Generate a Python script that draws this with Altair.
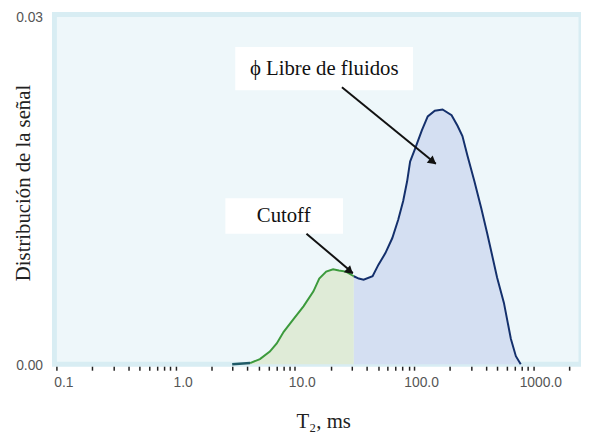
import altair as alt
import pandas as pd

# ---- curve data ----
t2 = [2.98, 4.21, 5.09, 6.16, 7.04, 8.05, 9.73, 11.8, 14.3, 16.0, 18.3, 20.9, 23.4, 26.8,
      31.2, 34.3, 37.7, 44.8, 50.2, 57.4, 65.6, 73.6, 80.9, 87.3, 92.5, 101.7, 116, 130,
      149, 173, 206, 231, 254, 280, 320, 365, 410, 442, 496, 566, 647, 713, 783]
signal = [0.0, 0.0001, 0.00045, 0.0011, 0.0018, 0.0028, 0.0039, 0.0050, 0.0063, 0.0074,
          0.0080, 0.0082, 0.0081, 0.0080, 0.0076, 0.0074, 0.0073, 0.0076, 0.0086, 0.0096,
          0.0109, 0.0125, 0.0141, 0.0158, 0.0175, 0.0186, 0.0202, 0.0214, 0.0219, 0.0220,
          0.0215, 0.0206, 0.0197, 0.0180, 0.0158, 0.0135, 0.0113, 0.0098, 0.0075, 0.0053,
          0.0022, 0.0007, 0.0]
cutoff = 31.2
start_end = 4.21

# ---- axis ticks ----
x_tick_values = [m * 10.0 ** e for e in (-1, 0, 1, 2) for m in range(1, 10)] + [1000.0, 2000.0]
y_tick_values = [0.0, 0.03]

# ---- annotations ----
box_x = [3.16, 2.61]
box_x2 = [97.9, 25.3]
box_y = [0.0274, 0.01434]
box_y2 = [0.02367, 0.01128]
label_text = ["ϕ Libre de fluidos", "Cutoff"]
label_x = [17.6, 8.05]
label_y = [0.02553, 0.01281]
arrow_x = [24.8, 12.5]
arrow_y = [0.02392, 0.01128]
arrow_x2 = [152.0, 30.6]
arrow_y2 = [0.01731, 0.00789]
head_x = [140.7, 28.4]
head_y = [0.01756, 0.0081]
head_angle = [129, 132]

df = pd.DataFrame({"t2": t2, "s": signal})
green = df[df.t2 <= cutoff]
blue = df[df.t2 >= cutoff]
start = df[df.t2 <= start_end]

boxes = pd.DataFrame({"x": box_x, "x2": box_x2, "y": box_y, "y2": box_y2})
labels = pd.DataFrame({"x": label_x, "y": label_y, "t": label_text})
arrows = pd.DataFrame({"x": arrow_x, "y": arrow_y, "x2": arrow_x2, "y2": arrow_y2})
heads = pd.DataFrame({"x": head_x, "y": head_y, "a": head_angle})

xscale = alt.Scale(type="log", domain=[0.09626, 2507], nice=False)
yscale = alt.Scale(domain=[0, 0.0302], nice=False)

xaxis = alt.Axis(
    values=x_tick_values,
    labelExpr="abs(log(datum.value)/LN10 - round(log(datum.value)/LN10)) < 1e-6 ? format(datum.value, '.1f') : ''",
    grid=False, domain=False, offset=2, tickSize=4, tickWidth=1.5, tickColor="#222",
    labelPadding=6, labelOffset=7, labelFont="Liberation Sans", labelFontSize=14,
    labelColor="#555", labelOverlap=False, labelFlush=False, labelBound=False,
    title="T₂, ms", titleFont="Liberation Serif", titleFontSize=21, titleFontWeight="normal",
    titleColor="#222", titleX=272, titleY=56, titleAlign="center", titleBaseline="middle",
)
yaxis = alt.Axis(
    values=y_tick_values, format=".2f", grid=False, domain=False, ticks=False,
    labelPadding=12, labelOffset=1, labelFont="Liberation Sans", labelFontSize=14,
    labelColor="#555",
    title="Distribución de la señal", titleFont="Liberation Serif", titleFontSize=21,
    titleFontWeight="normal", titleColor="#222", titleX=-31, titleY=170,
    titleAlign="center", titleBaseline="middle", titleAngle=270,
)

X = alt.X("t2:Q", scale=xscale, axis=xaxis)
Y = alt.Y("s:Q", scale=yscale, axis=yaxis)

area_g = alt.Chart(green).mark_area(color="#dfebd7", opacity=1).encode(x=X, y=Y)
area_b = alt.Chart(blue).mark_area(color="#d4dff2", opacity=1).encode(x=X, y=Y)
line_g = alt.Chart(green[green.t2 >= start_end]).mark_line(color="#3c9a3c", strokeWidth=2).encode(x=X, y=Y)
line_b = alt.Chart(blue).mark_line(color="#14306c", strokeWidth=2).encode(x=X, y=Y)
line_s = alt.Chart(start).mark_line(color="#1f5a66", strokeWidth=2.5).encode(x=X, y=Y)

bx = alt.Chart(boxes).mark_rect(color="white").encode(
    x=alt.X("x:Q", scale=xscale), x2="x2:Q",
    y=alt.Y("y:Q", scale=yscale), y2="y2:Q")
tx = alt.Chart(labels).mark_text(font="Liberation Serif", fontSize=21, color="#111",
                                 baseline="middle", align="center").encode(
    x=alt.X("x:Q", scale=xscale), y=alt.Y("y:Q", scale=yscale), text="t:N")
ar = alt.Chart(arrows).mark_rule(color="#111", strokeWidth=2).encode(
    x=alt.X("x:Q", scale=xscale), x2="x2:Q",
    y=alt.Y("y:Q", scale=yscale), y2="y2:Q")
hd = alt.Chart(heads).mark_point(shape="triangle", filled=True, color="#111", size=90, opacity=1).encode(
    x=alt.X("x:Q", scale=xscale), y=alt.Y("y:Q", scale=yscale),
    angle=alt.Angle("a:Q", scale=None))

chart = alt.layer(area_g, area_b, line_s, line_g, line_b, bx, tx, ar, hd).properties(
    width=533, height=354,
    autosize=alt.AutoSizeParams(type="none"),
    padding={"left": 47, "top": 4, "right": 0, "bottom": 70},
    background="white",
).configure_view(fill="#eef7fa", stroke="#d8edf3", strokeWidth=5)

chart.save("out.html", embed_options={"renderer": "svg", "actions": False})
